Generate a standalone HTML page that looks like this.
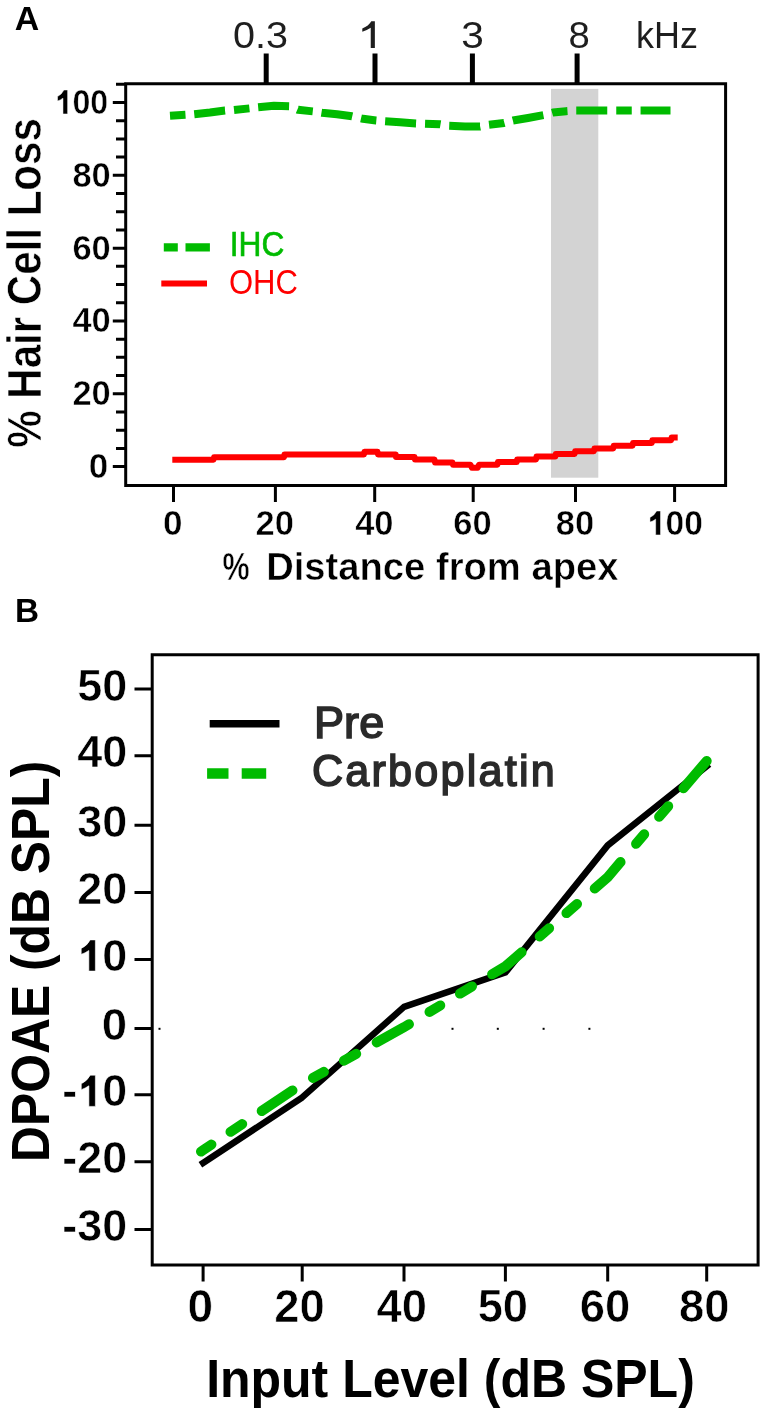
<!DOCTYPE html>
<html><head><meta charset="utf-8"><style>
html,body{margin:0;padding:0;background:#fff;}
svg{display:block;font-family:"Liberation Sans",sans-serif;will-change:transform;}
</style></head><body>
<svg width="766" height="1415" viewBox="0 0 766 1415">
<rect width="766" height="1415" fill="#fff"/>
<text x="14.65" y="30.20" font-size="33.9" font-weight="bold" fill="#000" textLength="24.48" lengthAdjust="spacingAndGlyphs">A</text>
<rect x="551" y="88.9" width="47.3" height="388.8" fill="#d3d3d3"/>
<path d="M125.7 83.7 V485.4 H725.6 V83.7 Z" fill="none" stroke="#000" stroke-width="3"/>
<path d="M112.8 466.60 H125.7 M116 448.40 H125.7 M116 430.19 H125.7 M116 411.99 H125.7 M112.8 393.78 H125.7 M116 375.58 H125.7 M116 357.37 H125.7 M116 339.17 H125.7 M112.8 320.96 H125.7 M116 302.75 H125.7 M116 284.55 H125.7 M116 266.35 H125.7 M112.8 248.14 H125.7 M116 229.94 H125.7 M116 211.73 H125.7 M116 193.53 H125.7 M112.8 175.32 H125.7 M116 157.12 H125.7 M116 138.91 H125.7 M116 120.71 H125.7 M112.8 102.50 H125.7 M116 84.30 H125.7 M173.5 485.4 V502 M275.4 485.4 V502 M374.7 485.4 V502 M473.2 485.4 V502 M575.5 485.4 V502 M674.6 485.4 V502" stroke="#000" stroke-width="3"/>
<text stroke="#fff" stroke-width="0.5" x="88.70" y="478.05" font-size="34.70422535211268" font-weight="bold" fill="#000" textLength="19.50" lengthAdjust="spacingAndGlyphs">0</text>
<text stroke="#fff" stroke-width="0.5" x="72.45" y="405.23" font-size="34.70422535211268" font-weight="bold" fill="#000" textLength="38.36" lengthAdjust="spacingAndGlyphs">20</text>
<text stroke="#fff" stroke-width="0.5" x="72.46" y="332.41" font-size="34.70422535211268" font-weight="bold" fill="#000" textLength="38.35" lengthAdjust="spacingAndGlyphs">40</text>
<text stroke="#fff" stroke-width="0.5" x="72.45" y="259.59" font-size="34.70422535211268" font-weight="bold" fill="#000" textLength="38.36" lengthAdjust="spacingAndGlyphs">60</text>
<text stroke="#fff" stroke-width="0.5" x="72.46" y="186.77" font-size="34.70422535211268" font-weight="bold" fill="#000" textLength="38.35" lengthAdjust="spacingAndGlyphs">80</text>
<text stroke="#fff" stroke-width="0.5" x="54.63" y="113.95" font-size="34.70422535211268" font-weight="bold" fill="#000" textLength="53.52" lengthAdjust="spacingAndGlyphs"> 00</text><path stroke="#fff" stroke-width="0.5" d="M62.97 113.95 L62.97 98.16 Q60.40 100.07 57.51 101.11 L57.51 96.60 Q61.68 94.52 63.93 90.00 L67.62 90.00 L67.62 113.95Z" fill="#000"/>
<text stroke="#fff" stroke-width="0.5" x="162.97" y="534.95" font-size="34.70422535211268" font-weight="bold" fill="#000" textLength="19.50" lengthAdjust="spacingAndGlyphs">0</text>
<text stroke="#fff" stroke-width="0.5" x="255.55" y="534.95" font-size="34.70422535211268" font-weight="bold" fill="#000" textLength="38.36" lengthAdjust="spacingAndGlyphs">20</text>
<text stroke="#fff" stroke-width="0.5" x="355.20" y="534.95" font-size="34.70422535211268" font-weight="bold" fill="#000" textLength="38.35" lengthAdjust="spacingAndGlyphs">40</text>
<text stroke="#fff" stroke-width="0.5" x="453.35" y="534.95" font-size="34.70422535211268" font-weight="bold" fill="#000" textLength="38.36" lengthAdjust="spacingAndGlyphs">60</text>
<text stroke="#fff" stroke-width="0.5" x="555.74" y="534.95" font-size="34.70422535211268" font-weight="bold" fill="#000" textLength="38.35" lengthAdjust="spacingAndGlyphs">80</text>
<text stroke="#fff" stroke-width="0.5" x="646.94" y="534.95" font-size="34.70422535211268" font-weight="bold" fill="#000" textLength="55.97" lengthAdjust="spacingAndGlyphs"> 00</text><path stroke="#fff" stroke-width="0.5" d="M655.66 534.95 L655.66 519.16 Q652.98 521.07 649.96 522.11 L649.96 517.60 Q654.32 515.52 656.67 511.00 L660.52 511.00 L660.52 534.95Z" fill="#000"/>
<path d="M266.2 53.5 V83.7 M375 53.5 V83.7 M472.4 53.5 V83.7 M577.1 53.5 V83.7" stroke="#000" stroke-width="5"/>
<text x="233.02" y="48.10" font-size="37.5" font-weight="normal" fill="#1e1e1e" textLength="54.97" lengthAdjust="spacingAndGlyphs">0.3</text>
<path d="M370.74 48.10 L370.74 27.85 Q367.18 30.29 362.30 31.79 L362.30 28.60 Q368.68 25.98 371.30 21.29 L374.86 21.29 L374.86 48.10Z" fill="#1e1e1e"/>
<text x="461.37" y="48.10" font-size="37.5" font-weight="normal" fill="#1e1e1e" textLength="22.60" lengthAdjust="spacingAndGlyphs">3</text>
<text x="568.48" y="48.10" font-size="37.5" font-weight="normal" fill="#1e1e1e" textLength="21.30" lengthAdjust="spacingAndGlyphs">8</text>
<text x="635.96" y="48.00" font-size="37.5" font-weight="normal" fill="#1e1e1e" textLength="61.91" lengthAdjust="spacingAndGlyphs">kHz</text>
<text stroke="#fff" stroke-width="0.6" transform="translate(41.30,447.75) rotate(-90)" x="0" y="0" font-size="47.869565217391305" font-weight="bold" fill="#000" textLength="329.57" lengthAdjust="spacingAndGlyphs">% Hair Cell Loss</text>
<text stroke="#fff" stroke-width="0.5" x="222.59" y="580.05" font-size="38.12463768115942" font-weight="bold" fill="#000" textLength="27.10" lengthAdjust="spacingAndGlyphs">%</text>
<text stroke="#fff" stroke-width="0.5" x="266.17" y="580.05" font-size="38.12463768115942" font-weight="bold" fill="#000" textLength="352.30" lengthAdjust="spacingAndGlyphs">Distance from apex</text>
<path d="M170 115.8 L186 114.8 L194 114.2 L210 112.5 L225 110.5 L234 110 L250 108.3 L258 107.3 L274 105.8 L290 106.3 L298 109.8 L314 111.5 L322 112.8 L337 114.3 L352 116.3 L363 118.8 L376 120.5 L385 121.3 L400 122.3 L416 123.5 L425 123.8 L440 124.3 L449 125.8 L465 126.4 L480 126.6 L489 124.8 L504 123 L513 120.5 L528 118 L544 115 L553 112.5 L566 111.2 L575 110.6 L670.5 110.6" fill="none" stroke="#00bb00" stroke-width="8" stroke-dasharray="15.5 8.8 31 9" stroke-linejoin="round"/>
<path d="M172.3 459.8 L213.5 459.8 L214.0 457.2 L284.0 457.2 L284.5 454.4 L364.0 454.4 L364.4 451.8 L377.5 451.8 L378.0 454.5 L395.7 454.5 L396.0 456.9 L414.5 456.9 L415.0 459.6 L434.5 459.6 L435.0 462.6 L452.5 462.6 L453.0 464.8 L470.5 464.8 L472.0 467.8 L477.5 467.8 L479.0 464.8 L497.4 464.8 L497.9 462.1 L516.7 462.1 L517.2 459.4 L536.0 459.4 L536.5 456.6 L555.3 456.6 L555.8 453.9 L574.6 453.9 L575.1 451.2 L593.9 451.2 L594.4 448.5 L613.2 448.5 L613.7 445.8 L632.5 445.8 L633.0 443.0 L651.8 443.0 L652.3 440.3 L671.1 440.3 L671.6 437.6 L677.7 437.6" fill="none" stroke="#ff0000" stroke-width="6" stroke-linejoin="round"/>
<path d="M163.8 247.4 H177.8 M185.5 247.4 H209.9" stroke="#00bb00" stroke-width="8.4"/>
<path d="M161.3 283.5 H207" stroke="#ff0000" stroke-width="6"/>
<text x="229.74" y="256.30" font-size="34.5" font-weight="normal" fill="#00bb00" textLength="54.63" lengthAdjust="spacingAndGlyphs" stroke="#00bb00" stroke-width="0.6">IHC</text>
<text x="228.90" y="294.20" font-size="34.5" font-weight="normal" fill="#ff0000" textLength="68.95" lengthAdjust="spacingAndGlyphs">OHC</text>
<text x="15.14" y="622.10" font-size="33.3" font-weight="bold" fill="#000" textLength="24.05" lengthAdjust="spacingAndGlyphs">B</text>
<path d="M152.2 654.7 V1264.9 H758.1 V654.7 Z" fill="none" stroke="#000" stroke-width="3"/>
<path d="M134.5 689 H152.2 M134.5 755.8 H152.2 M134.5 825.2 H152.2 M134.5 892.4 H152.2 M134.5 959.5 H152.2 M134.5 1028.6 H152.2 M134.5 1094.8 H152.2 M134.5 1161.8 H152.2 M134.5 1229.5 H152.2 M203.1 1264.9 V1281.5 M302.2 1264.9 V1281.5 M404 1264.9 V1281.5 M505.4 1264.9 V1281.5 M607.7 1264.9 V1281.5 M706.7 1264.9 V1281.5" stroke="#000" stroke-width="3"/>
<text stroke="#fff" stroke-width="0.6" x="77.17" y="700.60" font-size="45.24507042253521" font-weight="bold" fill="#000" textLength="50.03" lengthAdjust="spacingAndGlyphs">50</text>
<text stroke="#fff" stroke-width="0.6" x="77.18" y="767.40" font-size="45.24507042253521" font-weight="bold" fill="#000" textLength="50.02" lengthAdjust="spacingAndGlyphs">40</text>
<text stroke="#fff" stroke-width="0.6" x="77.18" y="836.80" font-size="45.24507042253521" font-weight="bold" fill="#000" textLength="50.03" lengthAdjust="spacingAndGlyphs">30</text>
<text stroke="#fff" stroke-width="0.6" x="77.17" y="904.00" font-size="45.24507042253521" font-weight="bold" fill="#000" textLength="50.03" lengthAdjust="spacingAndGlyphs">20</text>
<text stroke="#fff" stroke-width="0.6" x="77.16" y="971.10" font-size="45.24507042253521" font-weight="bold" fill="#000" textLength="50.05" lengthAdjust="spacingAndGlyphs"> 0</text><path stroke="#fff" stroke-width="0.6" d="M88.85 971.10 L88.85 950.51 Q85.26 953.00 81.21 954.36 L81.21 948.48 Q87.06 945.76 90.20 939.88 L95.38 939.88 L95.38 971.10Z" fill="#000"/>
<text stroke="#fff" stroke-width="0.6" x="101.78" y="1040.20" font-size="45.24507042253521" font-weight="bold" fill="#000" textLength="25.40" lengthAdjust="spacingAndGlyphs">0</text>
<text stroke="#fff" stroke-width="0.6" x="62.30" y="1106.40" font-size="45.24507042253521" font-weight="bold" fill="#000" textLength="64.81" lengthAdjust="spacingAndGlyphs">- 0</text><path stroke="#fff" stroke-width="0.6" d="M88.89 1106.40 L88.89 1085.81 Q85.31 1088.30 81.27 1089.66 L81.27 1083.78 Q87.10 1081.06 90.24 1075.18 L95.39 1075.18 L95.39 1106.40Z" fill="#000"/>
<text stroke="#fff" stroke-width="0.6" x="62.30" y="1173.40" font-size="45.24507042253521" font-weight="bold" fill="#000" textLength="64.81" lengthAdjust="spacingAndGlyphs">-20</text>
<text stroke="#fff" stroke-width="0.6" x="62.30" y="1241.10" font-size="45.24507042253521" font-weight="bold" fill="#000" textLength="64.81" lengthAdjust="spacingAndGlyphs">-30</text>
<text stroke="#fff" stroke-width="0.6" x="187.52" y="1322.00" font-size="45.645070422535206" font-weight="bold" fill="#000" textLength="25.62" lengthAdjust="spacingAndGlyphs">0</text>
<text stroke="#fff" stroke-width="0.6" x="274.33" y="1322.00" font-size="45.645070422535206" font-weight="bold" fill="#000" textLength="50.48" lengthAdjust="spacingAndGlyphs">20</text>
<text stroke="#fff" stroke-width="0.6" x="376.59" y="1322.00" font-size="45.645070422535206" font-weight="bold" fill="#000" textLength="50.47" lengthAdjust="spacingAndGlyphs">40</text>
<text stroke="#fff" stroke-width="0.6" x="477.64" y="1322.00" font-size="45.645070422535206" font-weight="bold" fill="#000" textLength="50.47" lengthAdjust="spacingAndGlyphs">50</text>
<text stroke="#fff" stroke-width="0.6" x="579.83" y="1322.00" font-size="45.645070422535206" font-weight="bold" fill="#000" textLength="50.48" lengthAdjust="spacingAndGlyphs">60</text>
<text stroke="#fff" stroke-width="0.6" x="678.94" y="1322.00" font-size="45.645070422535206" font-weight="bold" fill="#000" textLength="50.47" lengthAdjust="spacingAndGlyphs">80</text>
<text transform="translate(48.90,1161.94) rotate(-90)" x="0" y="0" font-size="54.3" font-weight="bold" fill="#000" textLength="401.23" lengthAdjust="spacingAndGlyphs">DPOAE (dB SPL)</text>
<text x="206.15" y="1396.70" font-size="52.9" font-weight="bold" fill="#000" textLength="488.65" lengthAdjust="spacingAndGlyphs">Input Level (dB SPL)</text>
<rect x="158.5" y="1027.8" width="2" height="2" fill="#000"/>
<rect x="451.5" y="1027.8" width="2" height="2" fill="#000"/>
<rect x="496.8" y="1027.8" width="2" height="2" fill="#000"/>
<rect x="542.6" y="1027.8" width="2" height="2" fill="#000"/>
<rect x="588.4" y="1027.8" width="2" height="2" fill="#000"/>
<path d="M203.10 1162.99 L302.20 1097.44 L404.00 1006.90 L505.40 972.44 L607.70 845.41 L706.70 766.35" fill="none" stroke="#000" stroke-width="6.5" stroke-linejoin="round" stroke-linecap="square"/>
<path d="M201.02 1151.54 L203.10 1150.15 L302.20 1083.93 L404.00 1027.17 L505.40 966.36 L607.70 877.16 L706.70 760.94" fill="none" stroke="#00bb00" stroke-width="10" stroke-linecap="round" stroke-dasharray="12.5 23 14 23.5 37 24"/>
<path d="M209.7 723.8 H279.5" stroke="#000" stroke-width="7.5"/>
<path d="M207.1 773.4 H228.5 M241.7 773.4 H266.2" stroke="#00bb00" stroke-width="10.5"/>
<text transform="scale(1.0,1)" x="313.90" y="738.00" font-size="45" font-weight="normal" fill="#2a2a2a" textLength="70.28" lengthAdjust="spacing" stroke="#2a2a2a" stroke-width="1.6">Pre</text>
<text transform="scale(0.97,1)" x="321.59" y="786.00" font-size="44.5" font-weight="normal" fill="#2a2a2a" textLength="250.43" lengthAdjust="spacing" stroke="#2a2a2a" stroke-width="1.6">Carboplatin</text>
</svg>
</body></html>
